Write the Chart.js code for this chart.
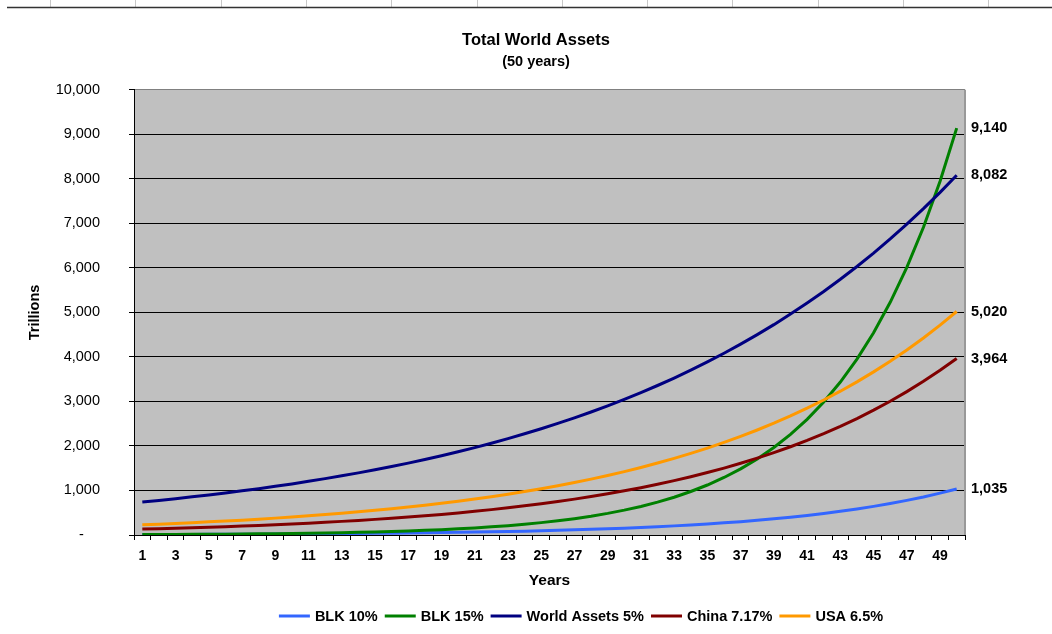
<!DOCTYPE html>
<html>
<head>
<meta charset="utf-8">
<title>Total World Assets</title>
<script src="https://cdn.jsdelivr.net/npm/chart.js@4.4.1/dist/chart.umd.min.js"></script>
<style>
  html, body { margin: 0; padding: 0; background: #fff; }
  canvas { display: block; }
</style>
</head>
<body>
<canvas id="assetsChart" width="1052" height="634"></canvas>
<script>
// Years on the x axis
const years = ['1', '2', '3', '4', '5', '6', '7', '8', '9', '10',
  '11', '12', '13', '14', '15', '16', '17', '18', '19', '20',
  '21', '22', '23', '24', '25', '26', '27', '28', '29', '30',
  '31', '32', '33', '34', '35', '36', '37', '38', '39', '40',
  '41', '42', '43', '44', '45', '46', '47', '48', '49', '50'];

// Values in trillions
const blk10 = [9.7, 10.7, 11.7, 12.9, 14.2, 15.6, 17, 19, 21, 23,
  25, 28, 31, 34, 37, 41, 45, 49, 54, 59,
  65, 72, 79, 87, 96, 105, 116, 127, 140, 154,
  169, 186, 205, 225, 248, 273, 300, 330, 363, 399,
  439, 483, 531, 584, 643, 707, 778, 855, 941, 1035];
const blk15 = [9.7, 11.2, 12.8, 14.8, 17, 19.5, 22, 26, 30, 34,
  39, 45, 52, 60, 69, 79, 91, 105, 120, 138,
  159, 183, 210, 242, 278, 319, 367, 422, 486, 559,
  642, 739, 849, 977, 1123, 1292, 1486, 1708, 1965, 2259,
  2598, 2988, 3436, 3952, 4544, 5226, 6010, 6911, 7948, 9140];
const worldAssets = [740, 777, 816, 857, 899, 944, 992, 1041, 1093, 1148,
  1205, 1266, 1329, 1395, 1465, 1538, 1615, 1696, 1781, 1870,
  1963, 2061, 2165, 2273, 2387, 2506, 2631, 2763, 2901, 3046,
  3198, 3358, 3526, 3702, 3888, 4082, 4286, 4500, 4725, 4962,
  5210, 5470, 5744, 6031, 6333, 6649, 6982, 7331, 7697, 8082];
const china = [132, 142, 152, 164, 175, 188, 202, 216, 232, 248,
  266, 285, 306, 328, 351, 376, 403, 432, 463, 496,
  532, 570, 611, 655, 702, 752, 806, 864, 926, 992,
  1063, 1139, 1221, 1308, 1403, 1503, 1611, 1726, 1850, 1983,
  2125, 2278, 2441, 2616, 2804, 3005, 3220, 3451, 3699, 3964];
const usa = [229, 244, 260, 277, 295, 314, 334, 356, 379, 404,
  430, 458, 488, 520, 554, 590, 628, 669, 713, 759,
  808, 860, 916, 976, 1039, 1106, 1178, 1255, 1337, 1424,
  1517, 1616, 1721, 1833, 1952, 2079, 2214, 2358, 2511, 2674,
  2848, 3033, 3230, 3440, 3664, 3902, 4156, 4426, 4714, 5020];

const seriesNames = ['BLK 10%', 'BLK 15%', 'World Assets 5%', 'China 7.17%', 'USA 6.5%'];
const seriesColors = ['#3366FF', '#008000', '#000080', '#800000', '#FF9900'];
const seriesValues = [blk10, blk15, worldAssets, china, usa];

// end-of-line labels come from the last value of each series
const finals = seriesValues.map(s => s[s.length - 1]);

const FONT = '"Liberation Sans", Arial, sans-serif';

// grey plot area, spreadsheet rule at the top, hand drawn legend
const sheetPlugin = {
  id: 'sheet',
  beforeDraw(chart) {
    const { ctx, chartArea: a, width } = chart;
    ctx.save();
    ctx.strokeStyle = '#c8c8c8';
    ctx.lineWidth = 1;
    for (let x = 50; x < width; x += 85.3) {
      const px = Math.round(x) + 0.5;
      ctx.beginPath();
      ctx.moveTo(px, 0);
      ctx.lineTo(px, 7);
      ctx.stroke();
    }
    ctx.strokeStyle = '#333';
    ctx.lineWidth = 1.5;
    ctx.beginPath();
    ctx.moveTo(7, 7.5);
    ctx.lineTo(width, 7.5);
    ctx.stroke();
    ctx.fillStyle = '#c0c0c0';
    ctx.fillRect(a.left, a.top, a.right - a.left, a.bottom - a.top);
    ctx.restore();
  },
  afterDraw(chart) {
    const { ctx, chartArea: a } = chart;
    ctx.save();
    // right edge of the plot
    ctx.strokeStyle = '#999';
    ctx.lineWidth = 2;
    ctx.beginPath();
    ctx.moveTo(a.right, a.top);
    ctx.lineTo(a.right, a.bottom);
    ctx.stroke();

    // legend
    ctx.font = 'bold 14.5px ' + FONT;
    const items = chart.data.datasets.map(ds => ({
      label: ds.label, color: ds.borderColor, w: ctx.measureText(ds.label).width
    }));
    const lineLen = 31, gap = 5, space = 7;
    const total = items.reduce((s, it) => s + lineLen + gap + it.w, 0) + space * (items.length - 1);
    let x = 581 - total / 2;
    const y = 616;
    ctx.textBaseline = 'middle';
    ctx.textAlign = 'left';
    items.forEach(it => {
      ctx.strokeStyle = it.color;
      ctx.lineWidth = 3;
      ctx.beginPath();
      ctx.moveTo(x, y);
      ctx.lineTo(x + lineLen, y);
      ctx.stroke();
      ctx.fillStyle = '#000';
      ctx.fillText(it.label, x + lineLen + gap, y + 1);
      x += lineLen + gap + it.w + space;
    });
    ctx.restore();
  }
};

const datasets = seriesValues.map((vals, i) => ({
  label: seriesNames[i],
  data: vals,
  borderColor: seriesColors[i],
  backgroundColor: seriesColors[i],
  borderWidth: 3,
  pointRadius: 0,
  tension: 0,
  fill: false,
  // later series sit on top, like the original
  order: seriesValues.length - i
}));

new Chart(document.getElementById('assetsChart'), {
  type: 'line',
  data: { labels: years, datasets: datasets },
  options: {
    responsive: false,
    animation: false,
    layout: { padding: { left: 20, right: 0, top: 0, bottom: 0 } },
    plugins: {
      legend: { display: false },
      tooltip: { enabled: false },
      title: {
        display: true,
        text: 'Total World Assets',
        color: '#000',
        font: { family: FONT, size: 16.5, weight: 'bold' },
        padding: { top: 31, bottom: 0 }
      },
      subtitle: {
        display: true,
        text: '(50 years)',
        color: '#000',
        font: { family: FONT, size: 14.5, weight: 'bold' },
        padding: { top: 2, bottom: 19.6 }
      }
    },
    scales: {
      x: {
        offset: true,
        grid: { offset: true, drawOnChartArea: false, drawTicks: true, tickLength: 5, color: '#000' },
        border: { color: '#000', width: 1 },
        ticks: {
          autoSkip: false,
          maxRotation: 0,
          padding: 8,
          color: '#000',
          font: { family: FONT, size: 14, weight: 'bold' },
          callback: (v, i) => (i % 2 === 0 ? years[i] : '')
        },
        title: {
          display: true,
          text: 'Years',
          color: '#000',
          font: { family: FONT, size: 15.5, weight: 'bold' },
          padding: { top: 0, bottom: 44 }
        },
        afterFit: s => { s.height = 99; }
      },
      y: {
        min: 0,
        max: 10000,
        ticks: {
          stepSize: 1000,
          padding: 29,
          color: '#000',
          font: { family: FONT, size: 14.5 },
          callback: v => (v === 0 ? '-    ' : v.toLocaleString('en-US'))
        },
        grid: {
          color: c => (c.tick && c.tick.value === 10000 ? '#808080' : '#000'),
          tickColor: '#000',
          tickLength: 5,
          lineWidth: 1
        },
        border: { color: '#000', width: 1 },
        title: {
          display: true,
          text: 'Trillions',
          color: '#000',
          font: { family: FONT, size: 14.5, weight: 'bold' },
          padding: { top: 6, bottom: 0 }
        },
        afterFit: s => { s.width = 114; }
      },
      yEnd: {
        position: 'right',
        min: 0,
        max: 10000,
        grid: { display: false, drawTicks: false, tickLength: 0 },
        border: { display: false },
        ticks: {
          autoSkip: false,
          padding: 6,
          color: '#000',
          font: { family: FONT, size: 14.5, weight: 'bold' },
          callback: v => v.toLocaleString('en-US')
        },
        afterBuildTicks: s => { s.ticks = finals.map(v => ({ value: v })); },
        afterFit: s => { s.width = 87; }
      }
    }
  },
  plugins: [sheetPlugin]
});
</script>
</body>
</html>
